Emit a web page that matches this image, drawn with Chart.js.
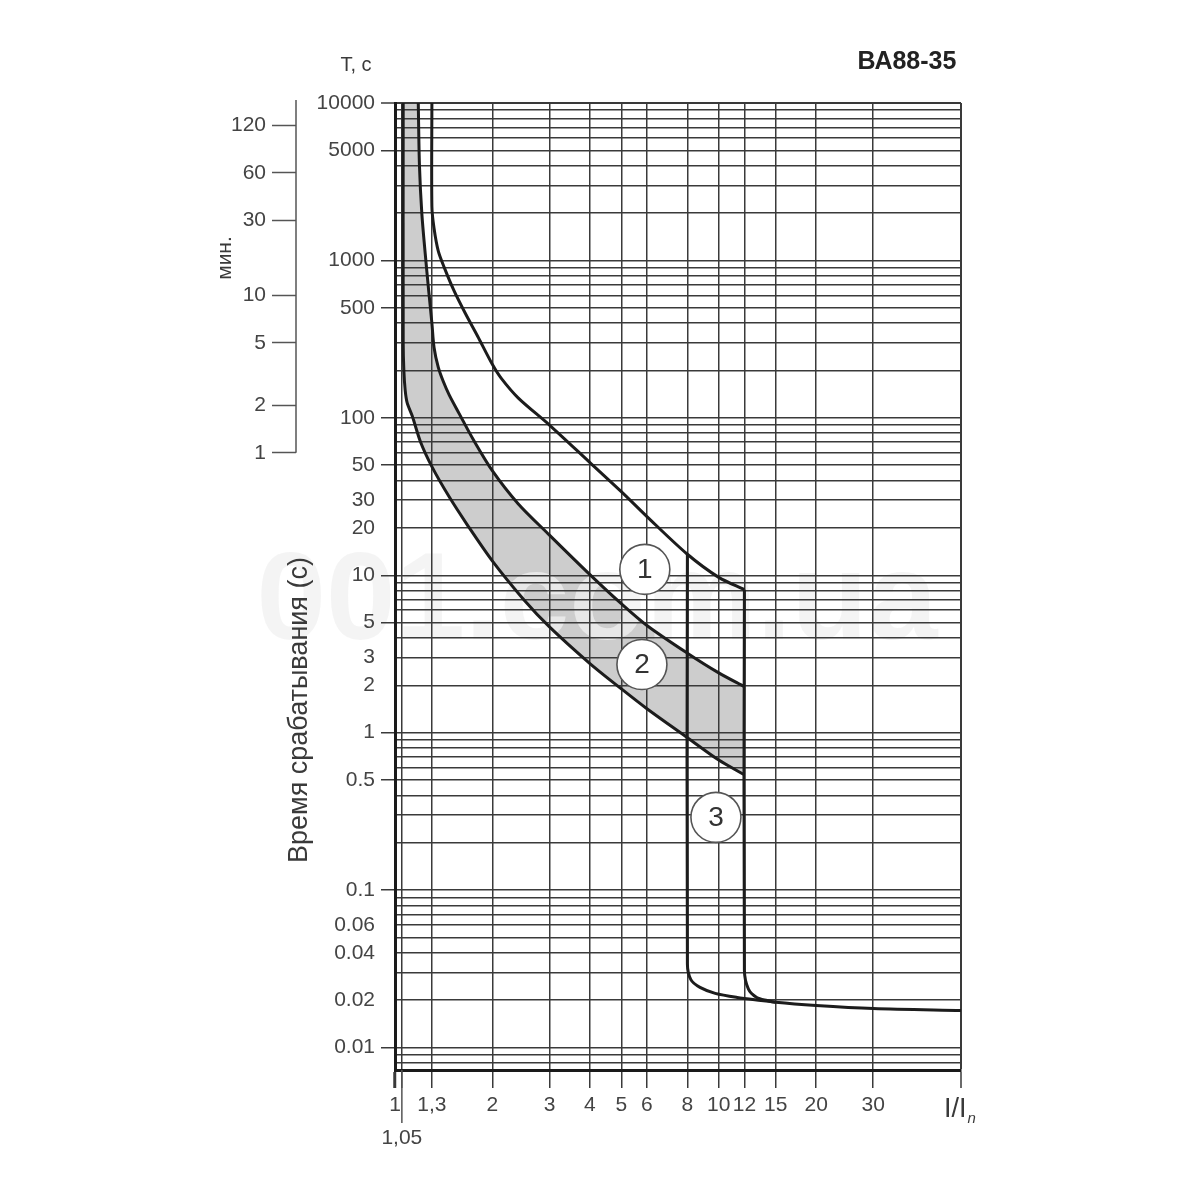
<!DOCTYPE html>
<html>
    <head>
        <meta charset="UTF-8" />
        <title>ВА88-35 время-токовая характеристика</title>
        <style type="text/css">
            body {
                margin: 0;
                background: #fff;
            }
            .chartBox {
                width: 1200px;
                height: 1200px;
            }
        </style>
    </head>
    <body>
        <div class="chartBox">
            <canvas id="myChart" width="1200" height="1200"></canvas>
        </div>

        <script src="https://cdn.jsdelivr.net/npm/chart.js"></script>
        <script>
            // eje I/In
            const xTicks = [1, 1.05, 1.3, 2, 3, 4, 5, 6, 8, 10, 12, 15, 20, 30];
            const xLabels = ['1', '1,05', '1,3', '2', '3', '4', '5', '6', '8', '10', '12', '15', '20', '30'];
            const xMax = 56;
            // eje T, c
            const yLabelValues = [10000, 5000, 1000, 500, 100, 50, 30, 20, 10, 5, 3, 2, 1, 0.5, 0.1, 0.06, 0.04, 0.02, 0.01];
            const yLabels = ['10000', '5000', '1000', '500', '100', '50', '30', '20', '10', '5', '3', '2', '1', '0.5', '0.1', '0.06', '0.04', '0.02', '0.01'];
            const yMarked = [10000, 5000, 1000, 500, 100, 50, 10, 5, 1, 0.5, 0.1, 0.01];
            const yMin = 0.0072;
            const yMax = 10000;
            // eje мин.
            const minuteTicks = [1, 2, 5, 10, 30, 60, 120];

            // zona gris: curva inferior y superior
            const lowI = [1.06, 1.06, 1.065, 1.075, 1.09, 1.13, 1.2, 1.3, 1.47, 1.67, 2, 2.5, 3, 4, 5, 6, 8, 10, 12];
            const lowT = [10000, 300, 200, 150, 125, 103, 70, 49, 31.5, 21, 12.3, 7.0, 4.7, 2.75, 1.9, 1.42, 0.93, 0.67, 0.54];
            const highI = [1.18, 1.19, 1.21, 1.24, 1.27, 1.3, 1.32, 1.36, 1.41, 1.47, 1.58, 1.75, 2, 2.4, 3, 4, 5, 6, 8, 10, 12];
            const highT = [10000, 4000, 2000, 1100, 650, 400, 280, 210, 170, 140, 106, 72, 46, 28.5, 18, 10.1, 6.6, 4.8, 3.2, 2.4, 1.96];
            // curva 1
            const oneI = [1.3, 1.3, 1.32, 1.36, 1.42, 1.52, 1.65, 1.8, 2, 2.13, 2.4, 3, 4, 5, 6, 8, 10, 12];
            const oneT = [10000, 2200, 1600, 1150, 900, 645, 460, 330, 218, 178, 134, 90, 52, 34, 23.6, 13.6, 9.7, 8.1];
            // disparo instantaneo 12 In
            const twelveI = [12, 12, 12.35, 13.1, 14.1, 15, 20, 30, 56];
            const twelveT = [8.1, 0.031, 0.0235, 0.0208, 0.0199, 0.0194, 0.0185, 0.0177, 0.0172];
            // disparo instantaneo 8 In (curva 3)
            const eightI = [8, 8, 8.2, 8.75, 9.75, 11.4, 13.5, 15];
            const eightT = [13.6, 0.034, 0.027, 0.0241, 0.0221, 0.0208, 0.0199, 0.0194];
            // circulos numerados
            const markI = [5.91, 5.79, 9.8];
            const markT = [10.9, 2.71, 0.29];
            const markText = ['1', '2', '3'];

            const FONT = '"Liberation Sans", Arial, sans-serif';
            Chart.defaults.font.family = FONT;
            Chart.defaults.color = '#444';

            const near = (a, b) => Math.abs(a - b) <= Math.abs(b) * 1e-6;
            const pts = (xs, ys) => xs.map((x, i) => ({x: x, y: ys[i]}));

            // lineas de rejilla: 1..9 en cada decada
            const yGrid = [];
            for (let e = -3; e <= 3; e++) {
                for (let m = 1; m <= 9; m++) {
                    const v = +(m * Math.pow(10, e)).toPrecision(6);
                    if (v >= yMin && v <= yMax) yGrid.push(v);
                }
            }
            yGrid.push(yMax);

            // contorno cerrado de la zona gris (esquinas repetidas para que el lado de 12 quede recto)
            const lowPts = pts(lowI, lowT);
            const highPts = pts(highI, highT).reverse();
            const bandShape = lowPts.concat([lowPts[lowPts.length - 1], highPts[0]], highPts);

            const curve = {
                borderColor: '#1c1c1c',
                borderWidth: 3,
                tension: 0.3,
                pointRadius: 0,
                fill: false,
                order: 2,
                yAxisID: 'y'
            };

            const extras = {
                id: 'extras',
                beforeDraw(chart) {
                    const ctx = chart.ctx;
                    ctx.save();
                    ctx.font = 'bold 125px ' + FONT;
                    ctx.fillStyle = 'rgba(240,240,240,0.75)';
                    ctx.textAlign = 'center';
                    ctx.textBaseline = 'middle';
                    ctx.fillText('001.com.ua', 597, 605);
                    ctx.restore();
                },
                afterDatasetsDraw(chart) {
                    const ctx = chart.ctx;
                    const meta = chart.getDatasetMeta(0);
                    ctx.save();
                    ctx.font = '28px ' + FONT;
                    ctx.fillStyle = '#333';
                    ctx.textAlign = 'center';
                    ctx.textBaseline = 'middle';
                    meta.data.forEach((p, i) => ctx.fillText(markText[i], p.x, p.y + 1));
                    ctx.restore();
                },
                afterDraw(chart) {
                    const {ctx, chartArea, scales} = chart;
                    const ym = scales.yMin;
                    ctx.save();
                    ctx.strokeStyle = '#555';
                    ctx.lineWidth = 1.5;
                    ctx.beginPath();
                    ctx.moveTo(ym.right, chartArea.top - 3);
                    ctx.lineTo(ym.right, ym.getPixelForValue(1));
                    ctx.stroke();
                    const x105 = scales.x.getPixelForValue(1.05);
                    ctx.beginPath();
                    ctx.moveTo(x105, chartArea.bottom);
                    ctx.lineTo(x105, chartArea.bottom + 53);
                    ctx.stroke();

                    ctx.fillStyle = '#3a3a3a';
                    ctx.textAlign = 'center';
                    ctx.textBaseline = 'middle';
                    ctx.font = '20px ' + FONT;
                    ctx.fillText('Т, с', 356, 65);
                    ctx.font = 'bold 25px ' + FONT;
                    ctx.fillStyle = '#222';
                    ctx.fillText('ВА88-35', 907, 62);
                    ctx.fillStyle = '#3a3a3a';
                    ctx.font = '21px ' + FONT;
                    ctx.save();
                    ctx.translate(225, 258);
                    ctx.rotate(-Math.PI / 2);
                    ctx.fillText('мин.', 0, 0);
                    ctx.restore();
                    ctx.font = '27px ' + FONT;
                    ctx.save();
                    ctx.translate(300, 710);
                    ctx.rotate(-Math.PI / 2);
                    ctx.fillText('Время срабатывания (с)', 0, 0);
                    ctx.restore();

                    ctx.textAlign = 'left';
                    ctx.textBaseline = 'alphabetic';
                    ctx.font = '27px ' + FONT;
                    ctx.fillText('I/I', 944, 1117);
                    const w = ctx.measureText('I/I').width;
                    ctx.font = 'italic 15px ' + FONT;
                    ctx.fillText('n', 944 + w + 1, 1123);
                    ctx.restore();
                }
            };

            const config = {
                type: 'line',
                data: {
                    datasets: [
                        {
                            data: pts(markI, markT),
                            showLine: false,
                            pointRadius: 25,
                            pointHoverRadius: 25,
                            pointBackgroundColor: '#fff',
                            pointBorderColor: '#555',
                            pointBorderWidth: 1.6,
                            order: 0,
                            yAxisID: 'y'
                        },
                        {...curve, data: pts(lowI, lowT)},
                        {...curve, data: pts(highI, highT)},
                        {...curve, data: pts(oneI, oneT)},
                        {...curve, data: pts(twelveI, twelveT)},
                        {...curve, data: pts(eightI, eightT)},
                        {
                            data: bandShape,
                            borderWidth: 0,
                            fill: 'shape',
                            backgroundColor: '#cdcdcd',
                            tension: 0.3,
                            pointRadius: 0,
                            order: 3,
                            yAxisID: 'y'
                        }
                    ]
                },
                options: {
                    responsive: false,
                    animation: false,
                    events: [],
                    layout: {
                        padding: {left: 224, right: 239, top: 103, bottom: 50}
                    },
                    plugins: {
                        legend: {display: false},
                        tooltip: {enabled: false},
                        filler: {drawTime: 'beforeDraw'}
                    },
                    scales: {
                        x: {
                            type: 'logarithmic',
                            position: 'bottom',
                            min: 1,
                            max: xMax,
                            afterBuildTicks: s => { s.ticks = xTicks.concat([xMax]).map(v => ({value: v})); },
                            afterFit: s => { s.height = 80; },
                            ticks: {
                                autoSkip: false,
                                maxRotation: 0,
                                minRotation: 0,
                                padding: 1,
                                color: '#444',
                                font: {size: 21, lineHeight: 1.55},
                                callback: v => {
                                    const i = xTicks.findIndex(t => near(v, t));
                                    if (i < 0) return '';
                                    return near(v, 1.05) ? ['', xLabels[i]] : xLabels[i];
                                }
                            },
                            grid: {
                                color: '#3a3a3a',
                                lineWidth: c => c.tick && near(c.tick.value, xMax) ? 2 : 1.5,
                                tickLength: 18,
                                tickColor: '#3a3a3a',
                                tickWidth: c => c.tick && c.tick.value === 1 ? 3 : 1.5
                            },
                            border: {display: true, color: '#1a1a1a', width: 3}
                        },
                        y: {
                            type: 'logarithmic',
                            position: 'left',
                            min: yMin,
                            max: yMax,
                            afterBuildTicks: s => { s.ticks = yGrid.map(v => ({value: v})); },
                            afterFit: s => { s.width = 99; },
                            ticks: {
                                autoSkip: false,
                                padding: 6,
                                color: '#444',
                                font: {size: 21},
                                callback: v => {
                                    const i = yLabelValues.findIndex(t => near(v, t));
                                    return i < 0 ? '' : yLabels[i];
                                }
                            },
                            grid: {
                                color: '#3a3a3a',
                                lineWidth: c => c.tick && near(c.tick.value, yMax) ? 2 : 1.5,
                                tickLength: 14,
                                tickWidth: 1.5,
                                tickColor: c => c.tick && yMarked.some(t => near(c.tick.value, t)) ? '#3a3a3a' : 'rgba(0,0,0,0)'
                            },
                            border: {display: true, color: '#1a1a1a', width: 3}
                        },
                        yMin: {
                            type: 'logarithmic',
                            position: 'left',
                            weight: 1,
                            min: yMin / 60,
                            max: yMax / 60,
                            afterBuildTicks: s => { s.ticks = minuteTicks.map(v => ({value: v})); },
                            afterFit: s => { s.width = 72; },
                            ticks: {
                                autoSkip: false,
                                padding: 6,
                                color: '#444',
                                font: {size: 21},
                                callback: v => String(v)
                            },
                            grid: {
                                drawOnChartArea: false,
                                tickLength: 24,
                                tickWidth: 1.5,
                                tickColor: '#555'
                            },
                            border: {display: false}
                        }
                    }
                },
                plugins: [extras]
            };

            const myChart = new Chart(document.getElementById('myChart'), config);
        </script>
    </body>
</html>
